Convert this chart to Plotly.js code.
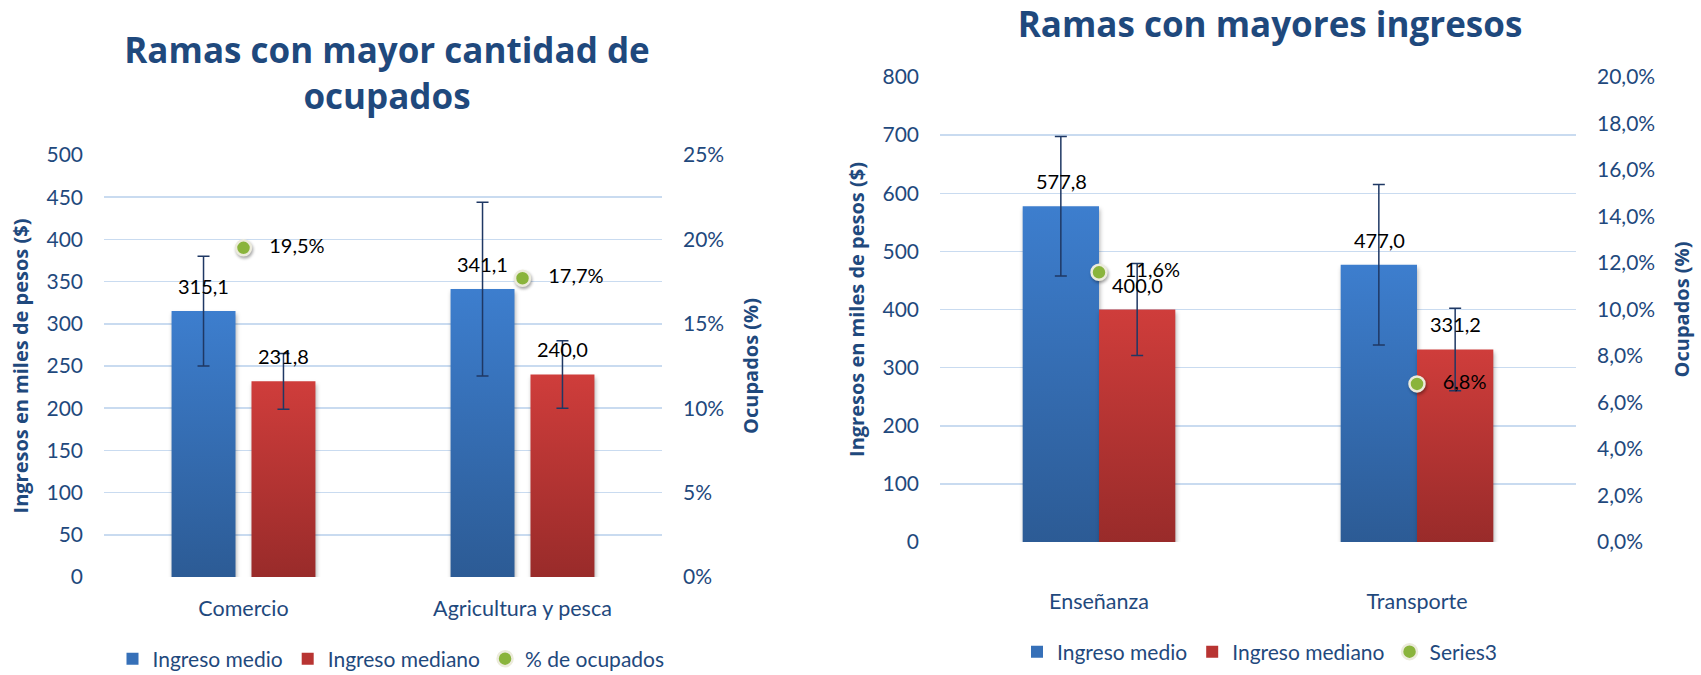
<!DOCTYPE html>
<html>
<head>
<meta charset="utf-8">
<script src="https://cdn.plot.ly/plotly-3.0.1.min.js"></script>
<style>
    body { margin: 0; background: #fff; }
    #wrap { position: relative; width: 1701px; height: 675px; }
    #left { position: absolute; left: 0; top: 0; width: 800px; height: 675px; }
    #right { position: absolute; left: 800px; top: 0; width: 901px; height: 675px; }
</style>
</head>
<body>
<div id="wrap">
    <div id="left"></div>
    <div id="right"></div>
</div>
<script>
// Left chart: ramas con mayor cantidad de ocupados
const leftCats = ['Comercio', 'Agricultura y pesca'];
const leftMedio = [315.1, 341.1];
const leftMediano = [231.8, 240.0];
const leftMedioErr = [65, 103];
const leftMedianoErr = [33, 40];
const leftOcupados = [0.195, 0.177];

// Right chart: ramas con mayores ingresos
const rightCats = ['Enseñanza', 'Transporte'];
const rightMedio = [577.8, 477.0];
const rightMediano = [400.0, 331.2];
const rightMedioErr = [120, 138];
const rightMedianoErr = [79, 71];
const rightOcupados = [0.116, 0.068];

const navy = '#1F497D';
const font = 'Lato, "Open Sans", sans-serif';
const boldFont = '"Open Sans", Lato, sans-serif';

function fmt(v, d) {
    return v.toFixed(d).replace('.', ',');
}

function buildTraces(cats, medio, mediano, medioErr, medianoErr, ocup, pctName) {
    const errStyle = {type: 'data', symmetric: true, color: '#1F3864', thickness: 1.5, width: 6};
    return [
        {
            type: 'bar', name: 'Ingreso medio', x: cats, y: medio,
            marker: {color: '#3670B8'},
            error_y: Object.assign({array: medioErr}, errStyle),
            hoverinfo: 'skip'
        },
        {
            type: 'bar', name: 'Ingreso mediano', x: cats, y: mediano,
            marker: {color: '#B83432'},
            error_y: Object.assign({array: medianoErr}, errStyle),
            hoverinfo: 'skip'
        },
        {
            type: 'scatter', mode: 'markers+text', name: pctName, x: cats, y: ocup, yaxis: 'y2',
            marker: {color: '#8AB43C', size: 15, line: {color: '#ECEBDC', width: 2.5}},
            text: ocup.map(v => '\u00a0\u00a0\u00a0' + fmt(v * 100, 1) + '%'),
            textposition: 'middle right', cliponaxis: false,
            textfont: {family: font, size: 20, color: '#000'},
            hoverinfo: 'skip'
        }
    ];
}

// value labels sit about 25px above each bar, shifted onto their bar of the group
function barLabels(cats, medio, mediano, shift) {
    const labels = [];
    cats.forEach((c, i) => {
        [[medio[i], -shift], [mediano[i], shift]].forEach(b => {
            labels.push({
                x: c, y: b[0], xref: 'x', yref: 'y', xshift: b[1], yshift: 25,
                text: fmt(b[0], 1), showarrow: false, yanchor: 'middle',
                font: {family: font, size: 20, color: '#000'}
            });
        });
    });
    return labels;
}

function baseLayout(opts) {
    return {
        width: opts.width, height: 675,
        margin: opts.margin,
        paper_bgcolor: '#fff', plot_bgcolor: '#fff',
        separators: ',.',
        font: {family: font, color: navy, size: 20},
        barmode: 'group', bargap: opts.bargap, bargroupgap: opts.bargroupgap,
        showlegend: true,
        title: {
            text: opts.title,
            font: {family: boldFont, size: 35, color: navy, weight: 'bold'},
            xref: 'container', x: opts.titleX, xanchor: 'center',
            yref: 'container', y: opts.titleY, yanchor: 'top'
        },
        annotations: opts.annotations,
        xaxis: {
            type: 'category', showgrid: false, zeroline: false, showline: false, ticks: '',
            tickfont: {family: font, size: 21.5, color: navy},
            ticklabelstandoff: opts.xStandoff
        },
        yaxis: {
            range: opts.yRange, dtick: opts.yDtick, showgrid: true, gridcolor: '#C9DBF0', gridwidth: 1.5,
            zeroline: false, showline: false, ticks: '',
            tickfont: {family: font, size: 21, color: navy},
            ticklabelstandoff: 20,
            title: {text: 'Ingresos en miles de pesos ($)', standoff: opts.yStandoff,
                font: {family: boldFont, size: 20, color: navy, weight: 'bold'}}
        },
        yaxis2: {
            overlaying: 'y', side: 'right', range: opts.y2Range, dtick: opts.y2Dtick,
            tickformat: opts.y2Format, showgrid: false, zeroline: false, showline: false, ticks: '',
            tickfont: {family: font, size: 21, color: navy},
            ticklabelstandoff: 20,
            title: {text: 'Ocupados (%)', standoff: opts.y2Standoff,
                font: {family: boldFont, size: 20, color: navy, weight: 'bold'}}
        },
        legend: {
            orientation: 'h', xref: 'container', x: opts.legendX, xanchor: 'center',
            yref: 'container', y: opts.legendY, yanchor: 'middle',
            font: {family: font, size: 21, color: navy}, itemwidth: 30
        }
    };
}

// Bars in the reference have a vertical gradient and a soft shadow
function addGradients(divId) {
    const gd = document.getElementById(divId);
    const svg = gd.querySelector('svg.main-svg');
    const ns = 'http://www.w3.org/2000/svg';
    const defs = document.createElementNS(ns, 'defs');
    const grads = [[divId + 'Blue', '#3D7ECE', '#2C5B95'], [divId + 'Red', '#CF3D3B', '#992B2A']];
    grads.forEach(g => {
        const lg = document.createElementNS(ns, 'linearGradient');
        lg.setAttribute('id', g[0]);
        lg.setAttribute('x1', '0'); lg.setAttribute('y1', '0');
        lg.setAttribute('x2', '0'); lg.setAttribute('y2', '1');
        [[0, g[1]], [1, g[2]]].forEach(s => {
            const stop = document.createElementNS(ns, 'stop');
            stop.setAttribute('offset', s[0]);
            stop.setAttribute('stop-color', s[1]);
            lg.appendChild(stop);
        });
        defs.appendChild(lg);
    });
    svg.appendChild(defs);

    const barTraces = gd.querySelectorAll('.barlayer .trace.bars');
    barTraces.forEach((t, i) => {
        t.querySelectorAll('.point path').forEach(p => {
            p.style.fill = 'url(#' + grads[i][0] + ')';
            p.style.filter = 'drop-shadow(1px 3px 2px rgba(0,0,0,0.3))';
        });
    });
    const legendBars = gd.querySelectorAll('.legend path.legendbar');
    legendBars.forEach((p, i) => {
        p.style.fill = 'url(#' + grads[i][0] + ')';
    });
    gd.querySelectorAll('.scatterlayer .point').forEach(p => {
        p.style.filter = 'drop-shadow(1px 2px 1.5px rgba(0,0,0,0.35))';
    });
}

async function drawCharts() {
    await Plotly.newPlot('left',
        buildTraces(leftCats, leftMedio, leftMediano, leftMedioErr, leftMedianoErr, leftOcupados, '% de ocupados'),
        baseLayout({
            width: 800, margin: {l: 104, r: 138, t: 155, b: 98},
            bargap: 0.427, bargroupgap: 0.2,
            title: 'Ramas con mayor cantidad de<br>ocupados', titleX: 387 / 800, titleY: 1 - 63 / 675,
            annotations: barLabels(leftCats, leftMedio, leftMediano, 40),
            xStandoff: 16, yRange: [0, 500], yDtick: 50, yStandoff: 12,
            y2Range: [0, 0.25], y2Dtick: 0.05, y2Format: '.0%', y2Standoff: 20,
            legendX: 391 / 800, legendY: 1 - 659 / 675
        }),
        {staticPlot: true});
    addGradients('left');

    await Plotly.newPlot('right',
        buildTraces(rightCats, rightMedio, rightMediano, rightMedioErr, rightMedianoErr, rightOcupados, 'Series3'),
        baseLayout({
            width: 901, margin: {l: 140, r: 125, t: 77, b: 133},
            bargap: 0.52, bargroupgap: 0,
            title: 'Ramas con mayores ingresos', titleX: 470 / 901, titleY: 1 - 12 / 675,
            annotations: barLabels(rightCats, rightMedio, rightMediano, 38),
            xStandoff: 44, yRange: [0, 800], yDtick: 100, yStandoff: 12,
            y2Range: [0, 0.2], y2Dtick: 0.02, y2Format: '.1%', y2Standoff: 20,
            legendX: 460 / 901, legendY: 1 - 652 / 675
        }),
        {staticPlot: true});
    addGradients('right');
}

drawCharts();
</script>
</body>
</html>
